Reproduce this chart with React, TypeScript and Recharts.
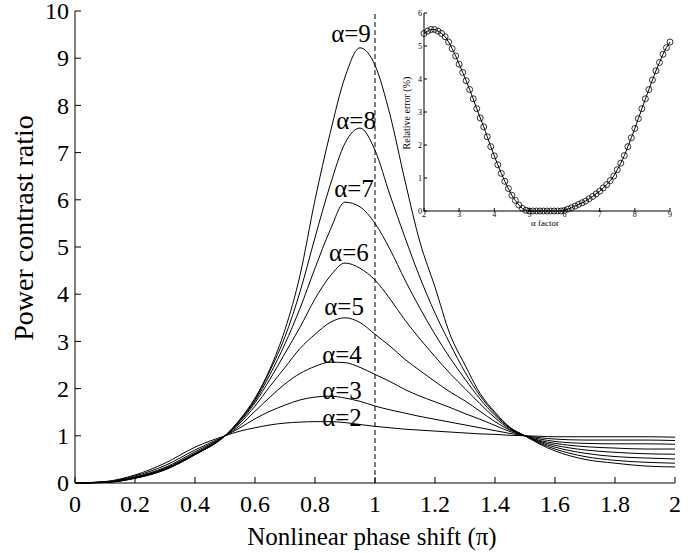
import React from "react";
import { LineChart, Line, XAxis, YAxis, ReferenceLine, ReferenceDot } from "recharts";

// nonlinear phase shift (units of pi)
const phase = [
  0, 0.1, 0.2, 0.3, 0.4, 0.5, 0.55, 0.6, 0.65, 0.7, 0.75, 0.8, 0.85, 0.9, 0.95,
  1.0, 1.05, 1.1, 1.15, 1.2, 1.25, 1.3, 1.35, 1.4, 1.45, 1.5, 1.55, 1.6, 1.7, 1.8, 1.9, 2.0,
];

// power contrast ratio, one list per alpha
const alpha2 = [0, 0.03, 0.17, 0.42, 0.76, 1.0, 1.1, 1.17, 1.23, 1.27, 1.29, 1.3, 1.3, 1.28, 1.24, 1.2, 1.17, 1.14, 1.12, 1.1, 1.08, 1.06, 1.04, 1.03, 1.01, 1.0, 0.99, 0.98, 0.98, 0.98, 0.98, 0.97];
const alpha3 = [0, 0.025, 0.15, 0.37, 0.7, 1.0, 1.17, 1.36, 1.52, 1.65, 1.76, 1.82, 1.84, 1.8, 1.73, 1.63, 1.55, 1.48, 1.41, 1.35, 1.29, 1.23, 1.17, 1.11, 1.05, 1.0, 0.96, 0.93, 0.91, 0.91, 0.91, 0.9];
const alpha4 = [0, 0.02, 0.13, 0.33, 0.66, 1.0, 1.22, 1.52, 1.82, 2.1, 2.32, 2.47, 2.56, 2.55, 2.45, 2.3, 2.15, 1.98, 1.84, 1.72, 1.6, 1.47, 1.35, 1.22, 1.09, 1.0, 0.93, 0.88, 0.84, 0.83, 0.83, 0.82];
const alpha5 = [0, 0.02, 0.12, 0.31, 0.63, 1.0, 1.27, 1.63, 2.05, 2.45, 2.85, 3.15, 3.4, 3.5, 3.4, 3.15, 2.9, 2.62, 2.38, 2.15, 1.93, 1.74, 1.52, 1.3, 1.12, 1.0, 0.9, 0.84, 0.77, 0.74, 0.72, 0.72];
const alpha6 = [0, 0.015, 0.11, 0.3, 0.62, 1.0, 1.3, 1.7, 2.2, 2.75, 3.3, 3.9, 4.38, 4.66, 4.55, 4.3, 3.9, 3.45, 3.05, 2.68, 2.32, 2.0, 1.68, 1.38, 1.14, 1.0, 0.88, 0.8, 0.7, 0.65, 0.62, 0.61];
const alpha7 = [0, 0.015, 0.11, 0.29, 0.61, 1.0, 1.32, 1.74, 2.3, 2.95, 3.7, 4.55, 5.35, 5.95, 5.85, 5.5, 4.95, 4.3, 3.7, 3.15, 2.65, 2.2, 1.78, 1.43, 1.16, 1.0, 0.86, 0.76, 0.63, 0.56, 0.53, 0.51];
const alpha8 = [0, 0.01, 0.1, 0.28, 0.6, 1.0, 1.34, 1.77, 2.38, 3.1, 4.05, 5.2, 6.3, 7.2, 7.52, 7.05, 6.1, 5.2, 4.35, 3.6, 2.95, 2.35, 1.85, 1.47, 1.17, 1.0, 0.84, 0.72, 0.56, 0.48, 0.44, 0.42];
const alpha9 = [0, 0.01, 0.1, 0.28, 0.6, 1.0, 1.35, 1.8, 2.42, 3.25, 4.4, 6.0, 7.4, 8.6, 9.22, 8.85, 7.8, 6.4, 5.1, 4.15, 3.15, 2.5, 1.9, 1.5, 1.18, 1.0, 0.82, 0.68, 0.5, 0.42, 0.36, 0.34];

const series = [alpha2, alpha3, alpha4, alpha5, alpha6, alpha7, alpha8, alpha9];
const alphaNames = ["a2", "a3", "a4", "a5", "a6", "a7", "a8", "a9"];

const xTicks = [0, 0.2, 0.4, 0.6, 0.8, 1, 1.2, 1.4, 1.6, 1.8, 2];
const yTicks = [0, 1, 2, 3, 4, 5, 6, 7, 8, 9, 10];

// where each "α=n" label sits, in data units
const labelSpots = [
  { text: "α=9", x: 0.92, y: 9.53 },
  { text: "α=8", x: 0.937, y: 7.69 },
  { text: "α=7", x: 0.93, y: 6.25 },
  { text: "α=6", x: 0.913, y: 4.89 },
  { text: "α=5", x: 0.897, y: 3.75 },
  { text: "α=4", x: 0.89, y: 2.73 },
  { text: "α=3", x: 0.89, y: 1.97 },
  { text: "α=2", x: 0.89, y: 1.4 },
];

// inset: relative error vs alpha factor
const factor = [
  2.0, 2.1, 2.2, 2.3, 2.4, 2.5, 2.6, 2.7, 2.8, 2.9,
  3.0, 3.1, 3.2, 3.3, 3.4, 3.5, 3.6, 3.7, 3.8, 3.9,
  4.0, 4.1, 4.2, 4.3, 4.4, 4.5, 4.6, 4.7, 4.8, 4.9,
  5.0, 5.1, 5.2, 5.3, 5.4, 5.5, 5.6, 5.7, 5.8, 5.9,
  6.0, 6.1, 6.2, 6.3, 6.4, 6.5, 6.6, 6.7, 6.8, 6.9,
  7.0, 7.1, 7.2, 7.3, 7.4, 7.5, 7.6, 7.7, 7.8, 7.9,
  8.0, 8.1, 8.2, 8.3, 8.4, 8.5, 8.6, 8.7, 8.8, 8.9, 9.0,
];
const relError = [
  5.38, 5.45, 5.5, 5.5, 5.45, 5.38, 5.28, 5.12, 4.92, 4.7,
  4.45, 4.2, 3.95, 3.68, 3.4, 3.1, 2.82, 2.55, 2.25, 1.95,
  1.67, 1.4, 1.14, 0.9, 0.68, 0.48, 0.32, 0.18, 0.08, 0.02,
  0, 0, 0, 0, 0, 0, 0, 0, 0, 0,
  0.02, 0.06, 0.1, 0.15, 0.2, 0.25, 0.3, 0.37, 0.44, 0.52,
  0.6, 0.7, 0.8, 0.92, 1.06, 1.25, 1.45, 1.68, 1.95, 2.22,
  2.5, 2.8, 3.1, 3.4, 3.68, 3.97, 4.25, 4.5, 4.75, 4.95, 5.12,
];
const insetXTicks = [2, 3, 4, 5, 6, 7, 8, 9];
const insetYTicks = [0, 1, 2, 3, 4, 5, 6];

const FONT = '"Liberation Serif", "Times New Roman", Times, serif';

const mainData = phase.map((p, i) => {
  const row: Record<string, number> = { phase: p };
  series.forEach((s, k) => (row[alphaNames[k]] = s[i]));
  return row;
});

const insetData = factor.map((f, i) => ({ factor: f, err: relError[i] }));

function BottomTick({ x, y, payload, len, size, gap }: any) {
  return (
    <g>
      <line x1={x} x2={x} y1={y} y2={y - len} stroke="#000" />
      <text x={x} y={y + gap} textAnchor="middle" fontFamily={FONT} fontSize={size} fill="#000">
        {String(payload.value)}
      </text>
    </g>
  );
}

function LeftTick({ x, y, payload, len, size, gap }: any) {
  return (
    <g>
      <line x1={x} x2={x + len} y1={y} y2={y} stroke="#000" />
      <text x={x - gap} y={y} dy="0.34em" textAnchor="end" fontFamily={FONT} fontSize={size} fill="#000">
        {String(payload.value)}
      </text>
    </g>
  );
}

function TopTick({ x, y, len }: any) {
  return <line x1={x} x2={x} y1={y} y2={y + len} stroke="#000" />;
}

function RightTick({ x, y, len }: any) {
  return <line x1={x} x2={x - len} y1={y} y2={y} stroke="#000" />;
}

function Inset() {
  return (
    <div style={{ position: "absolute", left: 380, top: 0 }}>
      <LineChart width={300} height={240} data={insetData} margin={{ top: 13, right: 10, bottom: 0, left: 0 }}>
        <XAxis
          dataKey="factor"
          type="number"
          domain={[2, 9]}
          ticks={insetXTicks}
          interval={0}
          height={29}
          tickSize={0}
          tickMargin={0}
          axisLine={{ stroke: "#000" }}
          tick={(p: any) => <BottomTick {...p} len={3} size={8} gap={6} />}
        />
        <XAxis
          xAxisId="top"
          orientation="top"
          dataKey="factor"
          type="number"
          domain={[2, 9]}
          ticks={insetXTicks}
          interval={0}
          height={0}
          tickSize={0}
          axisLine={{ stroke: "#000" }}
          tick={(p: any) => <TopTick {...p} len={3} />}
        />
        <YAxis
          type="number"
          domain={[0, 6]}
          ticks={insetYTicks}
          interval={0}
          width={44}
          tickSize={0}
          tickMargin={0}
          axisLine={{ stroke: "#000" }}
          tick={(p: any) => <LeftTick {...p} len={3} size={8} gap={2} />}
        />
        <YAxis
          yAxisId="right"
          orientation="right"
          type="number"
          domain={[0, 6]}
          ticks={insetYTicks}
          interval={0}
          width={0}
          tickSize={0}
          axisLine={{ stroke: "#000" }}
          tick={(p: any) => <RightTick {...p} len={3} />}
        />
        <Line
          dataKey="err"
          type="monotone"
          stroke="#000"
          strokeWidth={1}
          dot={{ r: 3, stroke: "#000", strokeWidth: 0.8, fill: "none" }}
          isAnimationActive={false}
        />
      </LineChart>
      <div
        style={{
          position: "absolute",
          left: 165,
          top: 223,
          transform: "translate(-50%, -50%)",
          fontFamily: FONT,
          fontSize: 9,
          whiteSpace: "nowrap",
        }}
      >
        α factor
      </div>
      <div
        style={{
          position: "absolute",
          left: 26,
          top: 113,
          transform: "translate(-50%, -50%) rotate(-90deg)",
          fontFamily: FONT,
          fontSize: 10,
          whiteSpace: "nowrap",
        }}
      >
        Relative error (%)
      </div>
    </div>
  );
}

export default function App() {
  return (
    <div style={{ position: "absolute", left: 0, top: 0, width: 695, height: 553, background: "#fff" }}>
      <LineChart width={695} height={553} data={mainData} margin={{ top: 11, right: 20, bottom: 0, left: 0 }}>
        <XAxis
          dataKey="phase"
          type="number"
          domain={[0, 2]}
          ticks={xTicks}
          interval={0}
          height={70}
          tickSize={0}
          tickMargin={0}
          axisLine={{ stroke: "#000" }}
          tick={(p: any) => <BottomTick {...p} len={6} size={24} gap={29} />}
        />
        <XAxis
          xAxisId="top"
          orientation="top"
          dataKey="phase"
          type="number"
          domain={[0, 2]}
          ticks={xTicks}
          interval={0}
          height={0}
          tickSize={0}
          axisLine={{ stroke: "#000" }}
          tick={(p: any) => <TopTick {...p} len={6} />}
        />
        <YAxis
          type="number"
          domain={[0, 10]}
          ticks={yTicks}
          interval={0}
          width={75}
          tickSize={0}
          tickMargin={0}
          axisLine={{ stroke: "#000" }}
          tick={(p: any) => <LeftTick {...p} len={6} size={24} gap={6} />}
        />
        <YAxis
          yAxisId="right"
          orientation="right"
          type="number"
          domain={[0, 10]}
          ticks={yTicks}
          interval={0}
          width={0}
          tickSize={0}
          axisLine={{ stroke: "#000" }}
          tick={(p: any) => <RightTick {...p} len={6} />}
        />
        <ReferenceLine x={1} stroke="#000" strokeDasharray="5 3" />
        {alphaNames.map((k) => (
          <Line key={k} dataKey={k} type="monotone" stroke="#000" strokeWidth={1} dot={false} isAnimationActive={false} />
        ))}
        {labelSpots.map((l) => (
          <ReferenceDot
            key={l.text}
            x={l.x}
            y={l.y}
            r={0}
            fill="none"
            stroke="none"
            label={{ value: l.text, position: "center", fontFamily: FONT, fontSize: 25, fill: "#000" }}
          />
        ))}
      </LineChart>
      <div
        style={{
          position: "absolute",
          left: 372,
          top: 537,
          transform: "translate(-50%, -50%)",
          fontFamily: FONT,
          fontSize: 25,
          whiteSpace: "nowrap",
        }}
      >
        Nonlinear phase shift (π)
      </div>
      <div
        style={{
          position: "absolute",
          left: 24,
          top: 228,
          transform: "translate(-50%, -50%) rotate(-90deg)",
          fontFamily: FONT,
          fontSize: 28,
          whiteSpace: "nowrap",
        }}
      >
        Power contrast ratio
      </div>
      <Inset />
    </div>
  );
}
